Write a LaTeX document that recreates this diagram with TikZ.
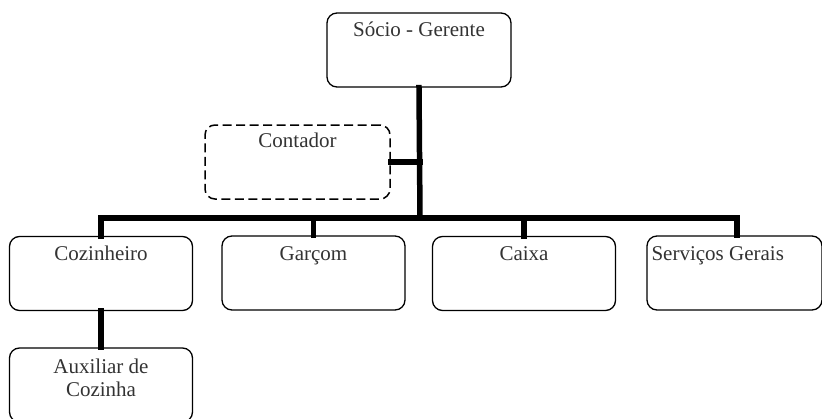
\documentclass[tikz,border=0pt]{standalone}
\usepackage{fontspec}
\setmainfont{Liberation Serif}
\begin{document}
\begin{tikzpicture}[x=1pt,y=-1pt,
  box/.style={draw=black, line width=1.3pt, rounded corners=10pt, fill=white,
    minimum width=#1, minimum height=74pt, inner sep=0pt},
  box/.default=183pt,
  dashbox/.style={box=185pt, line width=1.5pt, dash pattern=on 9pt off 4.5pt},
  lbl/.style={font=\fontsize{21pt}{23pt}\selectfont, text=black!80, anchor=base,
    align=center, inner sep=0pt},
  conn/.style={draw=black, line width=5.5pt, line join=miter, line cap=rect}]

\clip (0,0) rectangle (822,418);
\fill[white] (0,0) rectangle (822,418);

% boxes
\node[box=184pt] (sg) at (419,50) {};
\node[dashbox] (cont) at (297.5,162) {};
\node[box] (coz) at (101,273.5) {};
\node[box] (gar) at (313.5,273) {};
\node[box] (cai) at (524,273.5) {};
\node[box=175pt] (serv) at (734.5,273) {};
\node[box] (aux) at (101,385) {};

% connectors
\coordinate (bus) at (420,218);
\draw[conn] (sg.south) -- (bus);
\draw[conn] (cont.east) -- (cont.east -| bus);
\draw[conn] (coz.north) |- (bus);
\draw[conn] (bus) -| ([xshift=2.5pt]serv.north);
\draw[conn] (gar.north) -- (gar.north |- bus);
\draw[conn] (cai.north) -- (cai.north |- bus);
\draw[conn] (coz.south) -- (aux.north);

% labels
\node[lbl] (tsg) at ([yshift=-24pt]sg.north) {Sócio - Gerente};
\node[lbl] (tcont) at ([yshift=-23pt]cont.north) {Contador};
\node[lbl] (tcoz) at ([yshift=-25pt]coz.north) {Cozinheiro};
\node[lbl] (tgar) at ([yshift=-25pt]gar.north) {Garçom};
\node[lbl] (tcai) at ([yshift=-25pt]cai.north) {Caixa};
\node[lbl, anchor=base west] (tserv) at ([xshift=5pt,yshift=-25pt]serv.north west) {Serviços Gerais};
\node[lbl, anchor=north] (taux) at ([yshift=-11pt]aux.north) {Auxiliar de\\Cozinha};
\end{tikzpicture}
\end{document}
